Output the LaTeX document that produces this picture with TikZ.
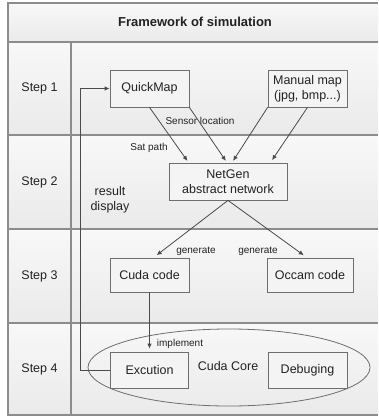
\documentclass[tikz,border=0pt]{standalone}
\usepackage{fontspec}
\setmainfont{Liberation Sans}
\usetikzlibrary{arrows.meta,calc,shapes.geometric}
\definecolor{framegray}{HTML}{8C8C8C}
\definecolor{boxgray}{HTML}{6E6E6E}
\definecolor{linegray}{HTML}{4A4A4A}
\definecolor{celltop}{HTML}{F8F8F8}
\definecolor{cellbot}{HTML}{EAEAEA}
\definecolor{boxfill}{HTML}{F4F4F4}
\definecolor{txt}{HTML}{222222}
\tikzset{
  cell/.style={top color=celltop,bottom color=cellbot,draw=none},
  frameline/.style={draw=framegray,line width=1.5pt},
  stepbox/.style={draw=boxgray,fill=boxfill,line width=0.8pt,text=txt,
    font=\fontsize{12.5}{15}\selectfont,align=center,inner sep=0pt},
  steplabel/.style={text=txt,font=\fontsize{12.5}{15}\selectfont},
  small/.style={text=txt,font=\fontsize{10}{12}\selectfont,inner sep=1pt},
  arr/.style={draw=linegray,line width=0.8pt,-{Latex[length=5pt,width=4.5pt]}},
  plain/.style={draw=linegray,line width=0.8pt}
}
\begin{document}
\begin{tikzpicture}[x=1pt,y=-1pt]
\useasboundingbox (0,0) rectangle (378,417);
% background cells
\fill[white] (0,0) rectangle (378,417);
\fill[cell] (8,3) rectangle (378,42);
\foreach \a/\b in {42/135,135/229,229/323,323/415}{
  \fill[cell] (8,\a) rectangle (71,\b);
  \fill[cell] (71,\a) rectangle (378,\b);
}
% frame lines
\draw[frameline] (378,3) -- (8,3) -- (8,415) -- (378,415);
\foreach \y in {42,135,229,323}{ \draw[frameline] (8,\y) -- (378,\y); }
\draw[frameline] (71,42) -- (71,415);
% title and steps
\node[text=txt,font=\bfseries\fontsize{13}{15}\selectfont] (title) at (195,22) {Framework of simulation};
\node[steplabel] (s1) at (39.5,88.5) {Step 1};
\node[steplabel] (s2) at (39.5,182) {Step 2};
\node[steplabel] (s3) at (39.5,276) {Step 3};
\node[steplabel] (s4) at (39.5,369) {Step 4};
% ellipse
\node[draw=boxgray,line width=0.8pt,ellipse,minimum width=282pt,minimum height=77pt,inner sep=0pt] (core) at (229,367.5) {};
\node[steplabel] (corelbl) at (228,366) {Cuda Core};
% boxes
\node[stepbox,minimum width=79pt,minimum height=37pt] (qm) at (149.5,88.5) {QuickMap};
\node[stepbox,minimum width=79pt,minimum height=37pt] (mm) at (307.5,88.5) {Manual map\\(jpg, bmp...)};
\node[stepbox,minimum width=118pt,minimum height=37pt] (ng) at (228,181.5) {NetGen\\abstract network};
\node[stepbox,minimum width=79pt,minimum height=34pt] (cuda) at (149.5,275) {Cuda code};
\node[stepbox,minimum width=86pt,minimum height=34pt] (occ) at (310,275) {Occam code};
\node[stepbox,minimum width=78pt,minimum height=36pt] (exc) at (149.5,370) {Excution};
\node[stepbox,minimum width=79pt,minimum height=36pt] (dbg) at (307.5,370) {Debuging};
% labels
\node[small] (satp) at (149,148) {Sat path};
\node[small] (senl) at (200,121) {Sensor location};
\node[small] (gen1) at (196,251) {generate};
\node[small] (gen2) at (258,251) {generate};
\node[small] (impl) at (180,344) {implement};
\node[steplabel,align=center,font=\fontsize{12.5}{15}\selectfont] (res) at (110,200) {result\\display};
% arrows
\draw[arr,shorten >=2pt] (qm.south) -- ($(ng.north west)+(20,0)$);
\draw[arr,shorten >=2pt] (qm.south east) -- ($(ng.north)+(-1,0)$);
\draw[arr,shorten >=2pt] (mm.south west) -- ($(ng.north)+(4,0)$);
\draw[arr,shorten >=3pt] (mm.south) -- ($(ng.north east)+(-17,0)$);
\draw[arr,shorten >=4pt] (ng.south) -- ($(cuda.north)+(4,0)$);
\draw[arr,shorten >=4pt] (ng.south) -- ($(occ.north)+(-3,0)$);
\draw[arr,shorten >=3pt] (cuda.south) -- (exc.north);
\draw[arr] (exc.west) -- ++(-29.5,0) |- (qm.west);
\end{tikzpicture}
\end{document}
